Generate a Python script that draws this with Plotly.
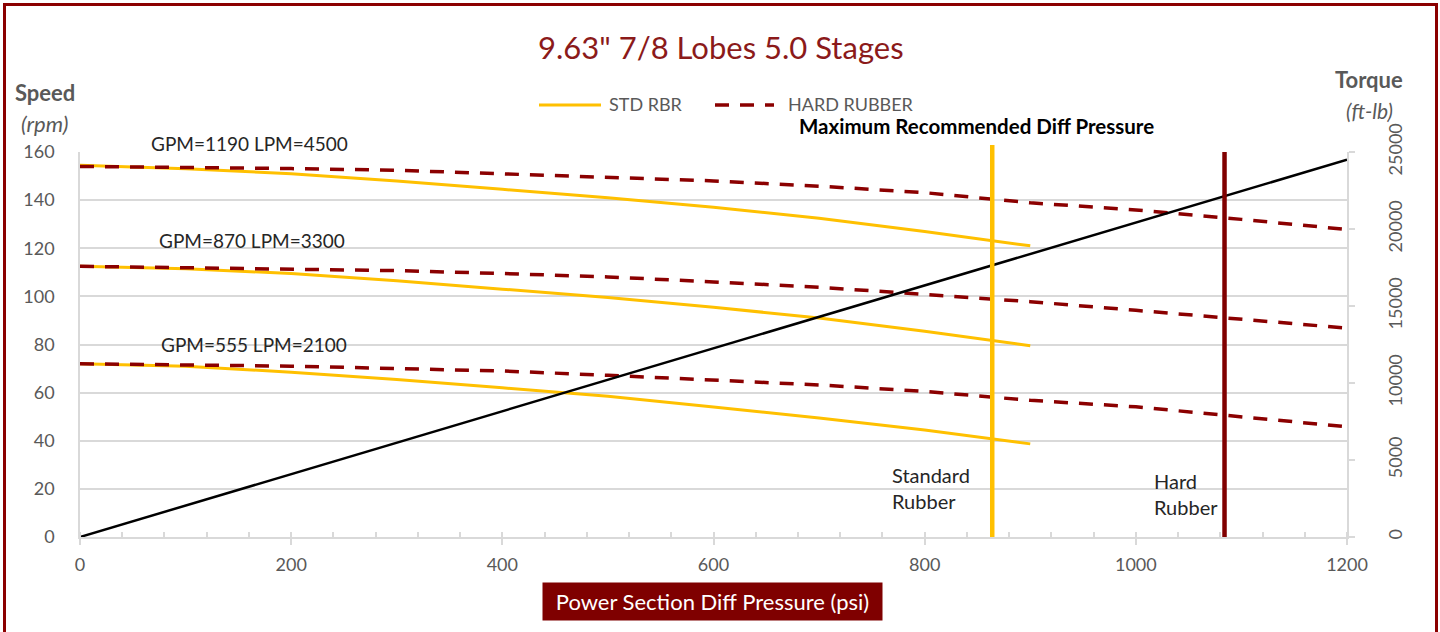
import plotly.graph_objects as go

# ---------------- data ----------------
psi_std = [0, 100, 200, 300, 400, 500, 600, 700, 800, 900]
std_1190 = [154.5, 153, 151, 148, 144.5, 141, 137, 132.5, 127, 121]
std_870 = [112.5, 111.5, 109.5, 106.5, 103, 99.5, 95.5, 91, 85.5, 79.5]
std_555 = [72, 71, 68.5, 65.5, 62, 58.5, 54, 49.5, 44.5, 38.7]

psi_hard = [0, 100, 200, 300, 400, 500, 600, 700, 800, 900, 1000, 1100, 1200]
hard_1190 = [154, 153.6, 153.1, 152.4, 151, 149.6, 148, 145.8, 143.1, 138.9, 135.9, 132, 127.8]
hard_870 = [112.5, 112, 111.5, 110.7, 109.5, 108.1, 106, 103.8, 100.8, 97.8, 94.2, 90.5, 86.8]
hard_555 = [72, 71.6, 71, 70, 69, 67.2, 65.3, 63.2, 60.5, 56.8, 54.1, 50, 45.8]

torque_psi = [0, 1200]
torque_ftlb = [0, 24500]

std_max_psi = 864
hard_max_psi = 1084
std_line_rpm = [0, 163]
hard_line_rpm = [0, 160]

flow_labels = ["GPM=1190 LPM=4500", "GPM=870 LPM=3300", "GPM=555 LPM=2100"]
flow_label_psi = [160.5, 163, 165]
flow_label_px_y = [143, 240, 344]   # vertical placement of the flow labels (pixels)

x_ticks = [0, 200, 400, 600, 800, 1000, 1200]
y_ticks = [0, 20, 40, 60, 80, 100, 120, 140, 160]
y2_ticks = [0, 5000, 10000, 15000, 20000, 25000]

# ---------------- style ----------------
FONT = "Lato"
GRAY = "#595959"
GRID = "#D9D9D9"
YELLOW = "#FFC000"
DKRED = "#8B0000"
TITLE_RED = "#8B1A1A"
TXT = "#262626"
DASH = "14px,11px"

W, H = 1440, 632
ML, MR, MT, MB = 80, 93, 145, 95
plot_w = W - ML - MR
plot_h = H - MT - MB          # 392
main_frac = 385 / plot_h      # main axes top at y=152


def px2paper_x(px):
    return (px - ML) / plot_w


def py2paper_y(py):
    return (H - MB - py) / plot_h


fig = go.Figure()

std_sets = [std_1190, std_870, std_555]
hard_sets = [hard_1190, hard_870, hard_555]
for ys in std_sets:
    fig.add_trace(go.Scatter(x=psi_std, y=ys, mode="lines", name="STD RBR",
                             showlegend=False, line=dict(color=YELLOW, width=3)))
for ys in hard_sets:
    fig.add_trace(go.Scatter(x=psi_hard, y=ys, mode="lines", name="HARD RUBBER",
                             showlegend=False,
                             line=dict(color=DKRED, width=3.5, dash=DASH)))

fig.add_trace(go.Scatter(x=torque_psi, y=torque_ftlb, mode="lines", yaxis="y2",
                         showlegend=False, line=dict(color="black", width=2.5)))

fig.add_trace(go.Scatter(x=[std_max_psi, std_max_psi], y=std_line_rpm, mode="lines",
                         yaxis="y3", showlegend=False,
                         line=dict(color=YELLOW, width=4.5)))
fig.add_trace(go.Scatter(x=[hard_max_psi, hard_max_psi], y=hard_line_rpm, mode="lines",
                         yaxis="y3", showlegend=False,
                         line=dict(color="#800000", width=4.5)))


def ann(x, y, text, size, color, xref="paper", yref="paper", xanchor="center", **kw):
    d = dict(x=x, y=y, xref=xref, yref=yref, text=text, showarrow=False,
             xanchor=xanchor, yanchor="middle",
             font=dict(family=FONT, size=size, color=color))
    d.update(kw)
    return d


annotations = []
for t, xv, pyv in zip(flow_labels, flow_label_psi, flow_label_px_y):
    annotations.append(ann(xv, py2paper_y(pyv), t, 19, TXT, xref="x", yref="paper"))

annotations += [
    ann(767, 20.4, "Standard<br>Rubber", 20, TXT, xref="x", yref="y", xanchor="left", align="left"),
    ann(1015, 18.0, "Hard<br>Rubber", 20, TXT, xref="x", yref="y", xanchor="left", align="left"),
    ann(px2paper_x(721), py2paper_y(47), '9.63" 7/8 Lobes 5.0 Stages', 31, TITLE_RED),
    ann(px2paper_x(45), py2paper_y(93), "<b>Speed</b>", 22, GRAY),
    ann(px2paper_x(45), py2paper_y(124), "<i>(rpm)</i>", 22, GRAY),
    ann(px2paper_x(1369), py2paper_y(80), "<b>Torque</b>", 22, GRAY),
    ann(px2paper_x(1369), py2paper_y(111), "<i>(ft-lb)</i>", 21, GRAY),
    ann(px2paper_x(976), py2paper_y(125.5), "<b>Maximum Recommended Diff Pressure</b>", 20.5, "black"),
    ann(px2paper_x(712.5), py2paper_y(601.5), "Power Section Diff Pressure (psi)", 22, "white",
        bgcolor="#7F0000", width=335, height=33, borderpad=2),
    # custom legend texts
    ann(px2paper_x(607), py2paper_y(104), "STD RBR", 18, GRAY, xanchor="left"),
    ann(px2paper_x(786), py2paper_y(104), "HARD RUBBER", 18, GRAY, xanchor="left"),
]

shapes = [
    dict(type="rect", xref="paper", yref="paper",
         x0=px2paper_x(4.5), x1=px2paper_x(1436.5),
         y0=py2paper_y(660), y1=py2paper_y(4.5),
         line=dict(color=DKRED, width=3), fillcolor="rgba(0,0,0,0)", layer="above"),
    # legend symbols
    dict(type="line", xref="paper", yref="paper",
         x0=px2paper_x(539), x1=px2paper_x(601), y0=py2paper_y(105), y1=py2paper_y(105),
         line=dict(color=YELLOW, width=3)),
    dict(type="line", xref="paper", yref="paper",
         x0=px2paper_x(715), x1=px2paper_x(774), y0=py2paper_y(105), y1=py2paper_y(105),
         line=dict(color=DKRED, width=3.5, dash=DASH)),
]

tickfont = dict(family=FONT, size=18, color=GRAY)

fig.update_layout(
    width=W, height=H,
    margin=dict(l=ML, r=MR, t=MT, b=MB, pad=0),
    paper_bgcolor="white", plot_bgcolor="rgba(0,0,0,0)",
    showlegend=False,
    xaxis=dict(range=[0, 1200], tickvals=x_ticks, showgrid=False, zeroline=False,
               showline=True, linecolor=GRID, linewidth=1.5,
               ticks="outside", ticklen=6, tickcolor=GRID, tickwidth=1.5,
               minor=dict(dtick=40, ticks="inside", ticklen=5, tickcolor=GRID, tickwidth=1.5),
               tickfont=tickfont, ticklabelstandoff=5, anchor="y"),
    yaxis=dict(range=[0, 160], tickvals=y_ticks, domain=[0, main_frac],
               showgrid=True, gridcolor=GRID, gridwidth=1.5, zeroline=False,
               showline=True, linecolor=GRID, linewidth=1.5, ticks="",
               tickfont=tickfont, ticklabelstandoff=20),
    yaxis2=dict(range=[0, 25000], tickvals=y2_ticks, overlaying="y", side="right",
                domain=[0, main_frac], anchor="x", tickformat="d",
                showgrid=False, zeroline=False, showline=True, linecolor=GRID, linewidth=1.5,
                ticks="outside", ticklen=6, tickcolor=GRID, tickwidth=1.5,
                tickangle=-90, tickfont=tickfont, ticklabelstandoff=26),
    yaxis3=dict(range=[0, 160 / main_frac], domain=[0, 1], anchor="x", visible=False,
                showgrid=False, zeroline=False),
    annotations=annotations,
    shapes=shapes,
)

fig.write_html("out.html", config={"displayModeBar": False},
               post_script="document.body.style.margin='0';")
